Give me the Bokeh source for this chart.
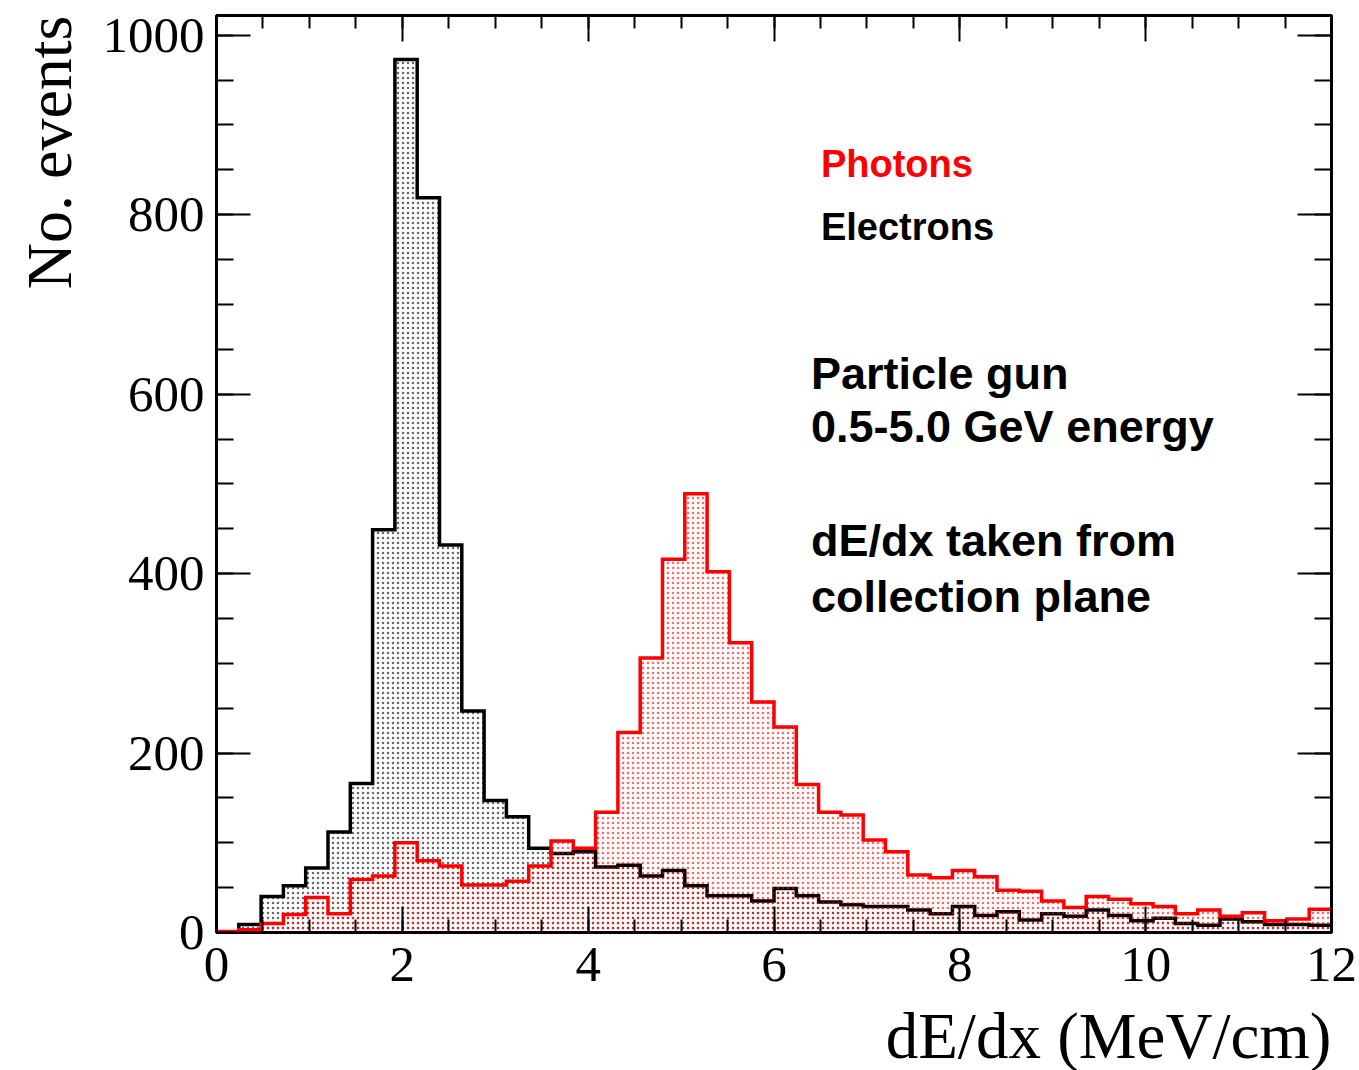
import numpy as np
from bokeh.plotting import figure
from bokeh.models import (Range1d, FixedTicker, LinearAxis, Label, Title,
                          CustomJSTickFormatter, ColumnDataSource)
from bokeh.embed import file_html
from bokeh.resources import INLINE

# ---- data ----
n_bins = 50
x_min, x_max = 0.0, 12.0
electrons = [0, 9, 40, 52, 72, 112, 166, 449, 973, 819,
             432, 247, 147, 129, 94, 88, 90, 73, 75, 63,
             69, 52, 41, 41, 35, 49, 41, 34, 31, 29,
             29, 25, 21, 29, 19, 23, 14, 21, 18, 25,
             19, 13, 16, 10, 8, 15, 12, 9, 9, 8]
photons = [1, 3, 10, 20, 39, 21, 59, 63, 100, 80,
           74, 53, 53, 57, 74, 102, 94, 134, 223, 306,
           416, 489, 402, 323, 257, 229, 165, 134, 131, 103,
           90, 64, 61, 69, 62, 47, 46, 35, 28, 40,
           37, 32, 29, 21, 25, 18, 22, 13, 15, 26]
x_ticks = [0, 2, 4, 6, 8, 10, 12]
y_ticks = [0, 200, 400, 600, 800, 1000]
x_minor = list(np.arange(0, 12.01, 0.5))
y_minor = list(np.arange(0, 1001, 50))
x_title = "dE/dx (MeV/cm)"
y_title = "No. events"
legend_items = [("Photons", "#ff0000"), ("Electrons", "black")]
info_lines = ["Particle gun", "0.5-5.0 GeV energy", "dE/dx taken from", "collection plane"]

edges = np.linspace(x_min, x_max, n_bins + 1)

p = figure(width=1359, height=1070, output_backend="svg", toolbar_location=None,
           x_range=Range1d(x_min, x_max), y_range=Range1d(0, 1022),
           min_border_left=215, min_border_right=28, min_border_top=15, min_border_bottom=138,
           x_axis_location=None, y_axis_location=None)
p.background_fill_color = "white"
p.border_fill_color = "white"
p.outline_line_color = "black"
p.outline_line_width = 3
p.xgrid.visible = False
p.ygrid.visible = False

SERIF = "Liberation Serif"
SANS = "Liberation Sans"

def make_axis(ticks, minor, maj_len, min_len, show_labels):
    ax = LinearAxis(ticker=FixedTicker(ticks=ticks, minor_ticks=minor))
    ax.axis_line_color = None
    ax.major_tick_in = maj_len
    ax.major_tick_out = 0
    ax.minor_tick_in = min_len
    ax.minor_tick_out = 0
    ax.major_tick_line_width = 2
    ax.minor_tick_line_width = 2
    ax.major_tick_line_color = "black"
    ax.minor_tick_line_color = "black"
    if show_labels:
        ax.major_label_text_font = SERIF
        ax.major_label_text_font_size = "51px"
        ax.major_label_text_color = "black"
    else:
        ax.formatter = CustomJSTickFormatter(code="return ''")
        ax.major_label_text_font_size = "0px"
        ax.major_label_standoff = 0
    return ax

bx = make_axis(x_ticks, x_minor, 26, 13, True)
bx.major_label_standoff = 15
ly = make_axis(y_ticks, y_minor, 34, 17, True)
ly.major_label_standoff = 12
tx = make_axis(x_ticks, x_minor, 26, 13, False)
ry = make_axis(y_ticks, y_minor, 34, 17, False)

# invisible spacer between the x tick labels and the x title
spacer = LinearAxis(ticker=FixedTicker(ticks=x_ticks, minor_ticks=[]))
spacer.axis_line_color = None
spacer.major_tick_line_color = None
spacer.major_tick_in = 0
spacer.major_tick_out = 20
spacer.minor_tick_in = 0
spacer.minor_tick_out = 0
spacer.formatter = CustomJSTickFormatter(code="return ''")
spacer.major_label_text_font_size = "0px"
spacer.major_label_standoff = 0

p.add_layout(bx, "below")
p.add_layout(spacer, "below")
p.add_layout(ly, "left")
p.add_layout(tx, "above")
p.add_layout(ry, "right")

# axis titles (ROOT style: at the end of the axes)
p.add_layout(Title(text=x_title, align="right", vertical_align="bottom",
                   text_font=SERIF, text_font_size="65px", text_font_style="normal",
                   text_color="black", standoff=-12), "below")
p.add_layout(Title(text=y_title, align="right", vertical_align="top",
                   text_font=SERIF, text_font_size="64px", text_font_style="normal",
                   text_color="black", standoff=26), "left")

src_e = ColumnDataSource(dict(left=edges[:-1], right=edges[1:], top=electrons))
src_p = ColumnDataSource(dict(left=edges[:-1], right=edges[1:], top=photons))

step_x = list(edges)
step_e = list(electrons) + [electrons[-1]]
step_p = list(photons) + [photons[-1]]

# electrons
p.quad(left="left", right="right", top="top", bottom=0, source=src_e,
       fill_color=None, line_color=None,
       hatch_pattern="dot", hatch_color="black", hatch_scale=5, hatch_weight=0.5,
       hatch_alpha=0.6)
p.step(step_x, step_e, mode="after", line_color="black", line_width=3.5, line_join="miter")
# photons
p.quad(left="left", right="right", top="top", bottom=0, source=src_p,
       fill_color=None, line_color=None,
       hatch_pattern="dot", hatch_color="#ff0000", hatch_scale=5, hatch_weight=0.5,
       hatch_alpha=0.6)
p.step(step_x, step_p, mode="after", line_color="#ff0000", line_width=3.5, line_join="miter")

# legend-style texts
leg_y = [856.5, 786.5]
for (txt, col), yy in zip(legend_items, leg_y):
    p.add_layout(Label(x=6.505, y=yy, text=txt, text_color=col, text_font=SANS,
                       text_font_style="bold", text_font_size="38px",
                       text_align="left", text_baseline="alphabetic"))

info_y = [623, 564, 437, 374]
for txt, yy in zip(info_lines, info_y):
    p.add_layout(Label(x=6.398, y=yy, text=txt, text_color="black", text_font=SANS,
                       text_font_style="bold", text_font_size="45px",
                       text_align="left", text_baseline="alphabetic"))

open("out.html", "w").write(file_html(p, INLINE))
